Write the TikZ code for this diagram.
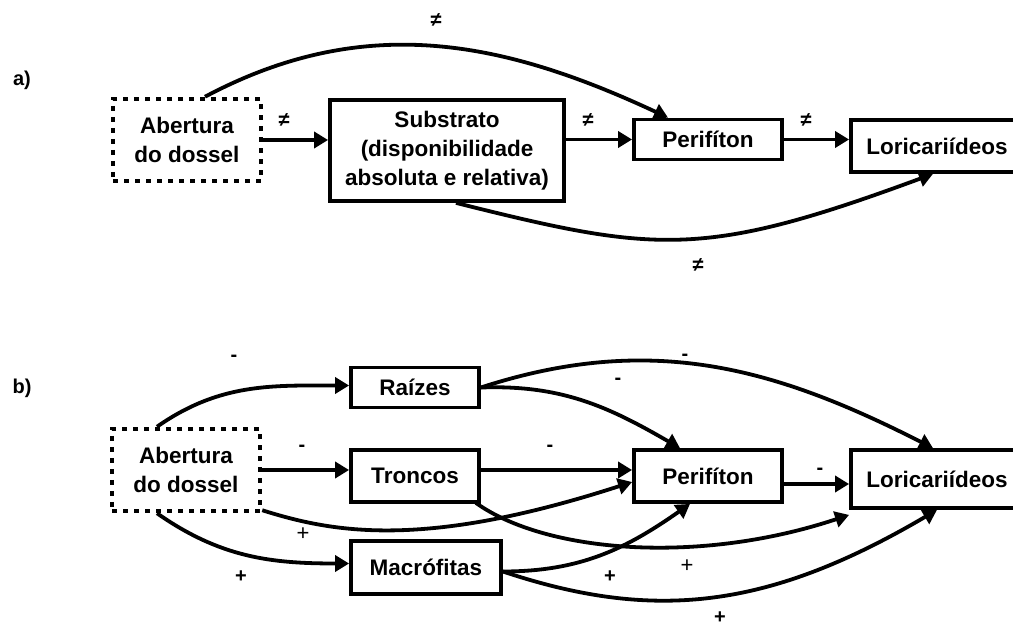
\documentclass[tikz,border=0pt]{standalone}
\usepackage{fontspec}
\setmainfont{Liberation Sans}
\usetikzlibrary{arrows.meta}
\usetikzlibrary{positioning}

\begin{document}
\begin{tikzpicture}[x=1pt, y=1pt,
    box/.style={draw, line width=3.8pt, inner sep=0pt, align=center,
      font=\bfseries\fontsize{22.5}{29}\selectfont},
    openbox/.style={box, line width=4.5pt, dash pattern=on 5pt off 6pt},
    link/.style={line width=3.8pt, -{Triangle[length=14pt, width=16pt]}},
    sign/.style={font=\fontsize{22}{22}\selectfont},
    bsign/.style={font=\bfseries\fontsize{20}{20}\selectfont},
    panel/.style={font=\bfseries\fontsize{20}{20}\selectfont}]
  \useasboundingbox (0,0) rectangle (1013,627);

  \node[panel] (panA) at (22,547) {a)};
  \node[openbox, minimum width=148pt, minimum height=82pt] (aberA) at (187,487) {Abertura\\do dossel};
  \node[box, minimum width=234pt, minimum height=101pt] (subA) at (447,476.5) {Substrato\\(disponibilidade\\absoluta e relativa)};
  \node[box, minimum width=148pt, minimum height=40pt] (perA) at (708,487.5) {Perifíton};
  \node[box, minimum width=172pt, minimum height=52pt] (lorA) at (937,481) {Loricariídeos};

  \draw[link] (aberA.east) -- (aberA.east -| subA.west);
  \draw[link] (subA.east |- perA.west) -- (perA.west);
  \draw[link] (perA.east) -- (perA.east -| lorA.west);
  \draw[link] ([xshift=18pt]aberA.north) to[out=28, in=155] ([xshift=-40pt]perA.north);
  \draw[link] ([xshift=9pt]subA.south) .. controls +(200,-50) and +(-230,-85) .. ([xshift=-4pt]lorA.south);

  \node[bsign] (neqAS) at (284,507) {≠};
  \node[bsign] (neqSP) at (588,507) {≠};
  \node[bsign] (neqPL) at (806,507) {≠};
  \node[bsign] (neqAP) at (436,607) {≠};
  \node[bsign] (neqSL) at (698,362) {≠};

  \node[panel] (panB) at (22,239) {b)};
  \node[openbox, minimum width=148pt, minimum height=82pt] (aberB) at (186,157) {Abertura\\do dossel};
  \node[box, minimum width=128pt, minimum height=40pt] (rai) at (415,239.5) {Raízes};
  \node[box, minimum width=128pt, minimum height=52pt] (tro) at (415,151) {Troncos};
  \node[box, minimum width=150pt, minimum height=53pt] (mac) at (426,59.5) {Macrófitas};
  \node[box, minimum width=148pt, minimum height=52pt] (perB) at (708,151) {Perifíton};
  \node[box, minimum width=172pt, minimum height=58pt] (lorB) at (937,148) {Loricariídeos};

  \draw[link] ([xshift=-29pt]aberB.north) to[out=35, in=180] ([yshift=2pt]rai.west);
  \draw[link] (aberB.east) -- (aberB.east -| tro.west);
  \draw[link] (tro.east |- aberB.east) -- (perB.west |- aberB.east);
  \draw[link] ([yshift=-8pt]perB.east) -- ([yshift=-8pt]perB.east -| lorB.west);
  \draw[link] (rai.east) to[out=2, in=150] ([xshift=-28pt]perB.north);
  \draw[link] (rai.east) to[out=18, in=153] ([xshift=-4pt]lorB.north);
  \draw[link] ([yshift=3pt]aberB.south east) .. controls +(70,-22) and +(-210,-68) .. ([yshift=-6pt]perB.west);
  \draw[link] ([xshift=-29pt]aberB.south) to[out=-35, in=180] ([yshift=4pt]mac.west);
  \draw[link] ([xshift=-5pt, yshift=1pt]tro.south east) .. controls +(70,-50) and +(-150,-50) .. ([yshift=-5pt]lorB.south west);
  \draw[link] ([yshift=-4pt]mac.east) to[out=0, in=215] ([xshift=-18pt]perB.south);
  \draw[link] ([yshift=-4pt]mac.east) .. controls +(150,-50) and +(-170,-100) .. (lorB.south);

  \node[bsign] (minAR) at (234,269) {-};
  \node[bsign] (minAT) at (302,179) {-};
  \node[bsign] (minTP) at (550,179) {-};
  \node[bsign] (minPL) at (820,156) {-};
  \node[bsign] (minRP) at (618,246) {-};
  \node[bsign] (minRL) at (685,270) {-};
  \node[sign] (plsAP) at (303,93) {+};
  \node[bsign] (plsAM) at (241,50) {+};
  \node[sign] (plsTL) at (687,61) {+};
  \node[bsign] (plsMP) at (610,50) {+};
  \node[bsign] (plsML) at (720,9) {+};
\end{tikzpicture}
\end{document}
